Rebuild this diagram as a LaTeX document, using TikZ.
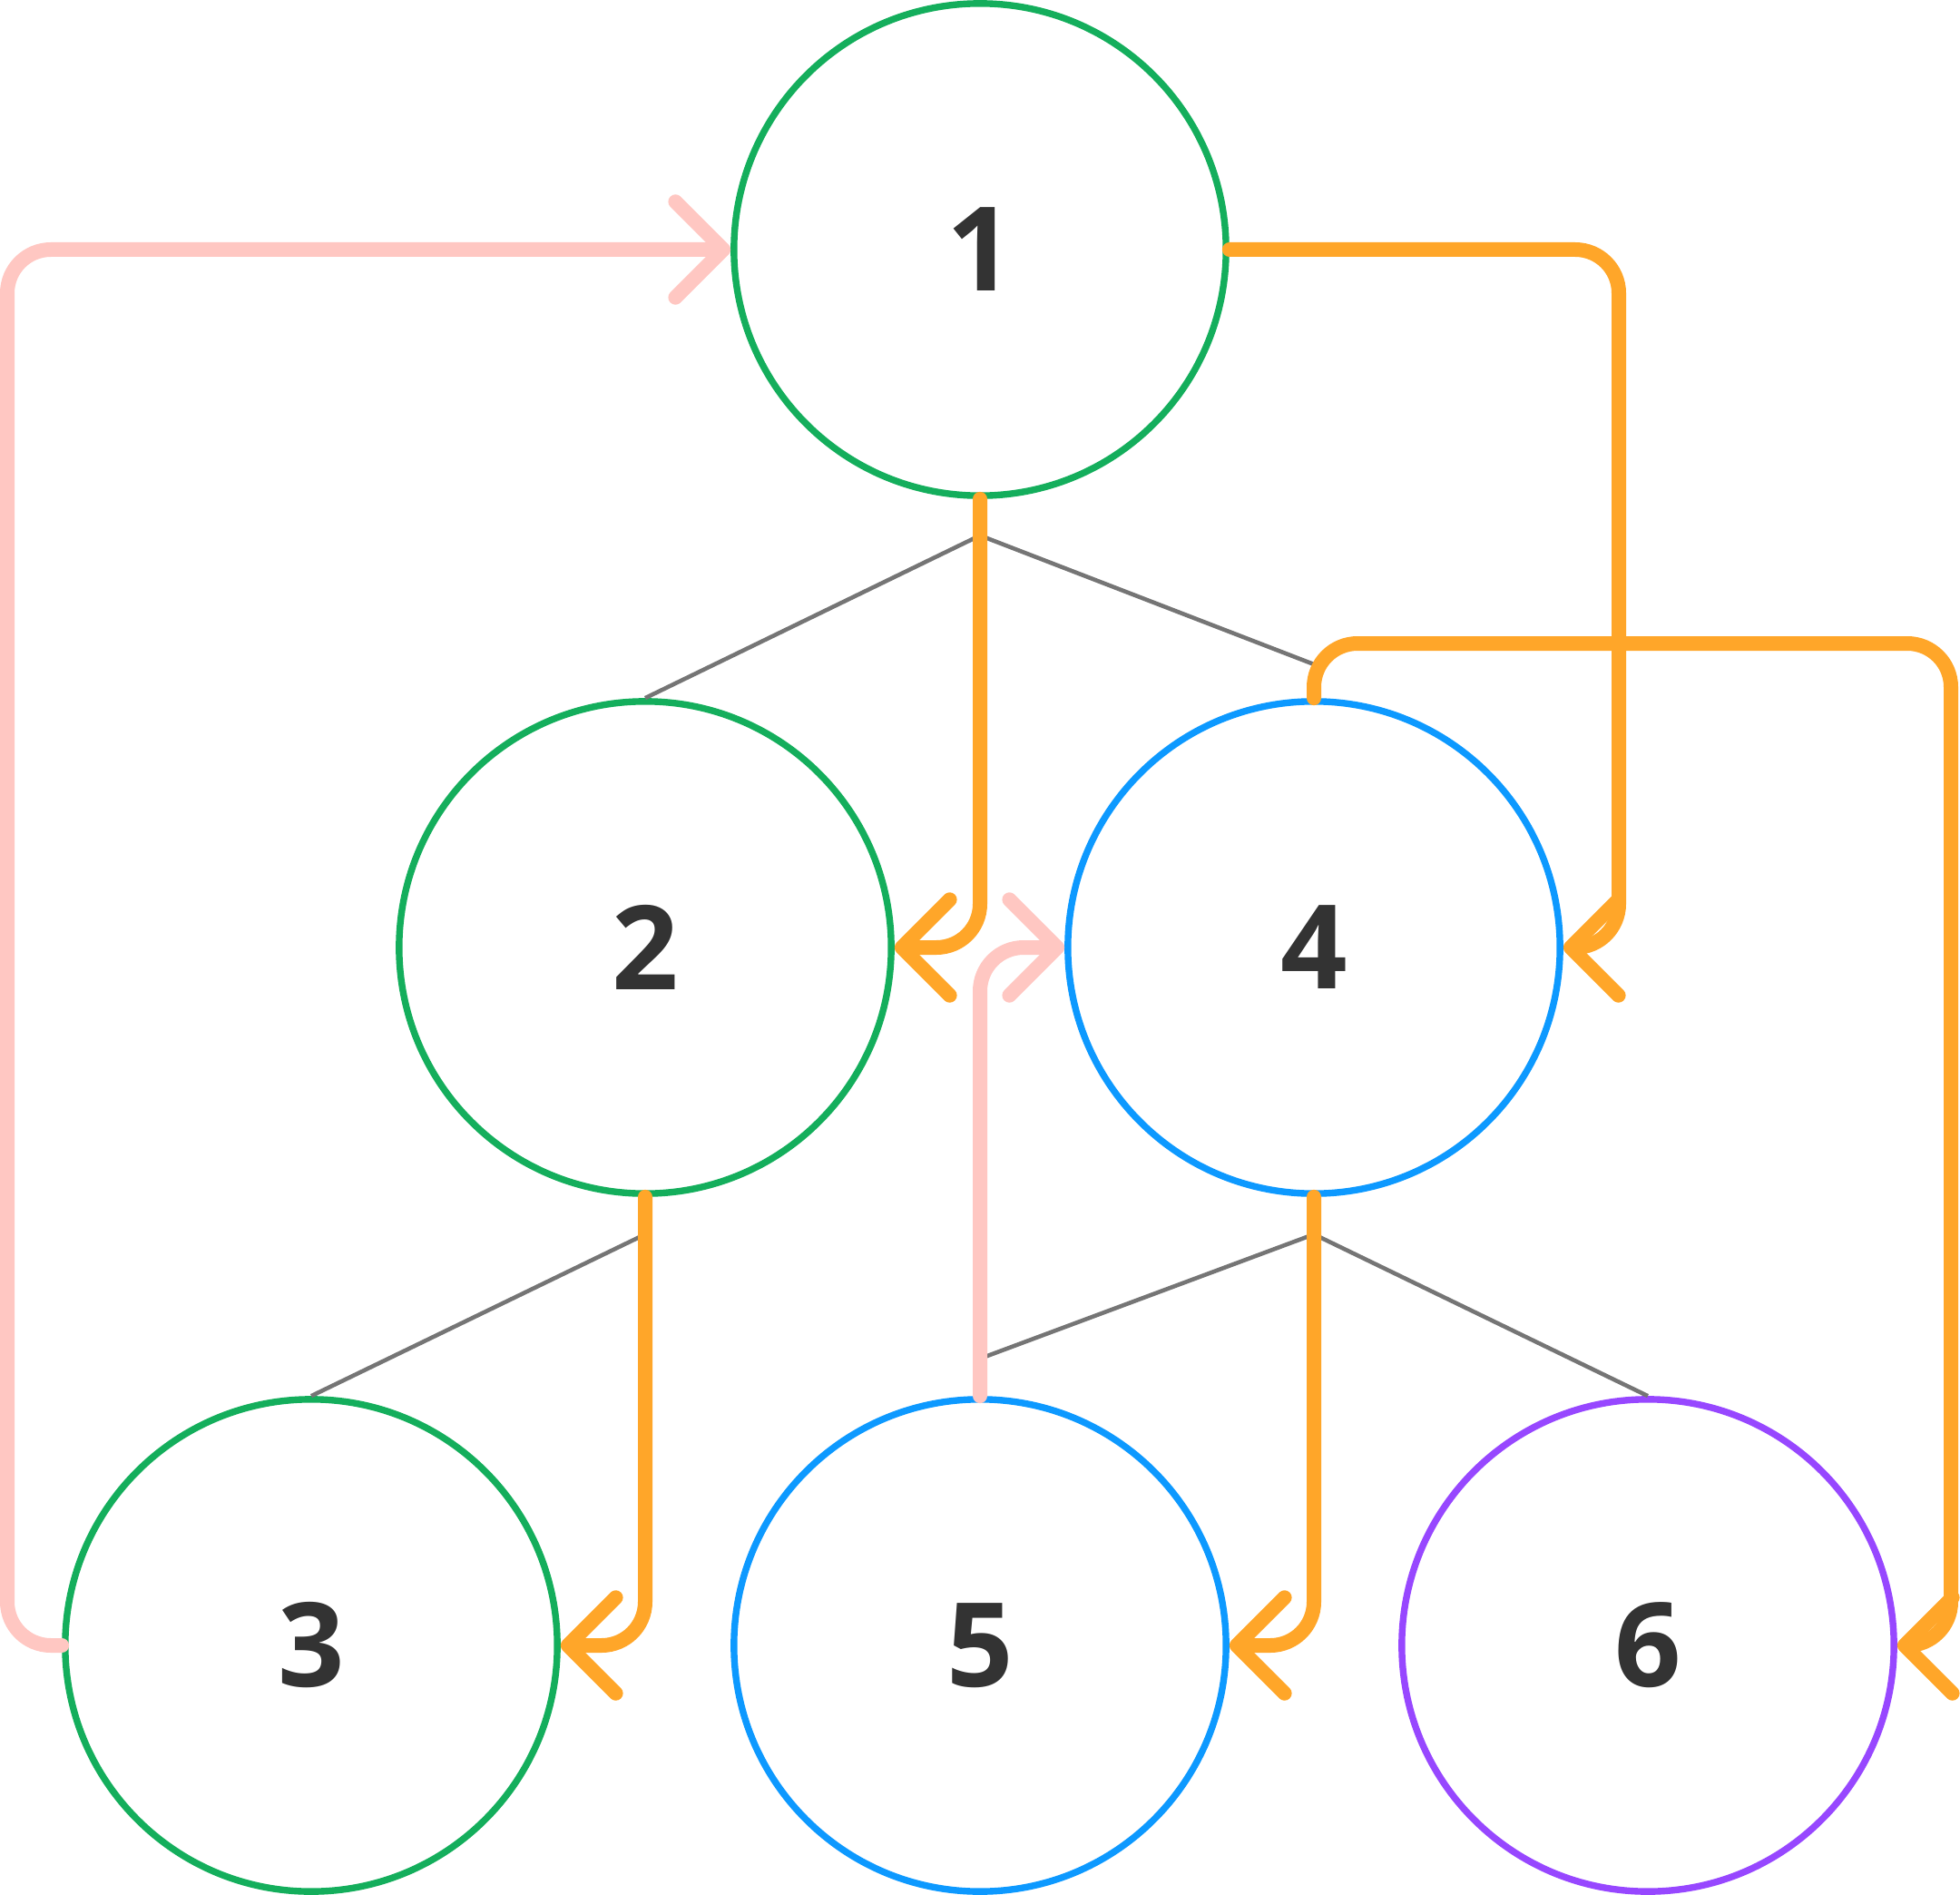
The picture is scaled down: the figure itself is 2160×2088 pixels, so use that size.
\documentclass[tikz,border=0pt]{standalone}
\usepackage{fontspec}
\setmainfont{Open Sans}
\usetikzlibrary{arrows.meta}
\definecolor{fgreen}{HTML}{14AE5C}
\definecolor{fblue}{HTML}{0D99FF}
\definecolor{fpurple}{HTML}{9747FF}
\definecolor{forange}{HTML}{FFA629}
\definecolor{fpink}{HTML}{FFC7C2}
\definecolor{fgray}{HTML}{757575}
\definecolor{ftext}{HTML}{333333}

\begin{document}
\begin{tikzpicture}[x=0.01cm, y=-0.01cm,
  vert/.style={circle, draw=#1, line width=2.1pt, minimum size=5.42cm, inner sep=0pt,
    text=ftext, font=\fontsize{36.6}{40}\selectfont\bfseries},
  tree/.style={fgray, line width=1.3pt},
  walk/.style={#1, line width=4.55pt, line cap=round, rounded corners=0.48cm,
    -{Straight Barb[length=15pt, width=30pt, round]}}]
\useasboundingbox (0,0) rectangle (2160,2088);

\node[vert=fgreen] (n1) at (1080,275) {1};
\node[vert=fgreen] (n2) at (711,1044) {2};
\node[vert=fblue] (n4) at (1448,1044) {4};
\node[vert=fgreen] (n3) at (343,1813) {3};
\node[vert=fblue] (n5) at (1080,1813) {5};
\node[vert=fpurple] (n6) at (1816,1813) {6};

\coordinate (j1) at (1080,590);
\coordinate (j2) at (711,1360);
\coordinate (j4) at (1448,1360);
% the edges to 4 and 5 stop under the walks
\coordinate (t4) at (1448,732);
\coordinate (t5) at (1080,1497);
\draw[tree] (j1) -- (n2.north);
\draw[tree] (j1) -- (t4);
\draw[tree] (j2) -- (n3.north);
\draw[tree] (j4) -- (t5);
\draw[tree] (j4) -- (n6.north);

\draw[walk=fpink] (n3.west) -- (8,1813) -- (8,275) -- (n1.west);
\draw[walk=fpink] (n5.north) -- (n5 |- n4) -- (n4.west);

\draw[walk=forange] (n1.south) -- (n1 |- n2) -- (n2.east);
\draw[walk=forange] (n1.east) -- (1784,275) -- (1784,1044) -- (n4.east);
\draw[walk=forange] (n4.north) -- (1448,709) -- (2150,709) -- (2150,1813) -- (n6.east);
\draw[walk=forange] (n2.south) -- (n2 |- n3) -- (n3.east);
\draw[walk=forange] (n4.south) -- (n4 |- n5) -- (n5.east);
\end{tikzpicture}
\end{document}
